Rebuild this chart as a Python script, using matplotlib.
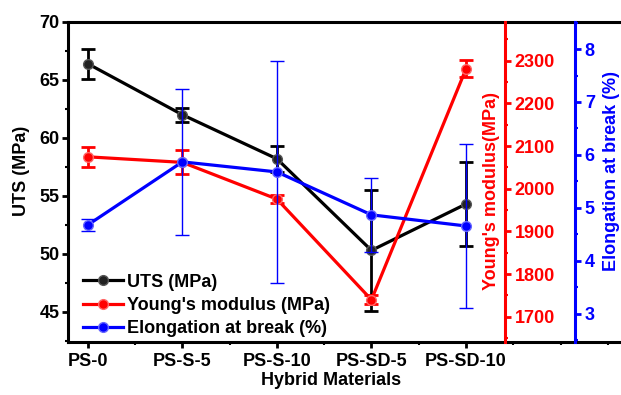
import matplotlib
matplotlib.use("Agg")
import matplotlib.pyplot as plt
from matplotlib.ticker import MultipleLocator
from matplotlib.lines import Line2D

plt.rcParams['font.family'] = ['Liberation Sans', 'DejaVu Sans']
plt.rcParams['font.weight'] = 'bold'

categories = ["PS-0", "PS-S-5", "PS-S-10", "PS-SD-5", "PS-SD-10"]
uts = [66.4, 62.0, 58.2, 50.3, 54.3]
uts_err = [1.3, 0.6, 1.1, 5.2, 3.6]
young = [2075, 2062, 1976, 1740, 2281]
young_err = [23, 28, 10, 10, 20]
elong = [4.68, 5.87, 5.68, 4.87, 4.66]
elong_err = [0.12, 1.38, 2.1, 0.7, 1.54]

W, H = 621, 395
fig = plt.figure(figsize=(W / 100, H / 100), dpi=100)
left, right, top, bottom = 68, 621, 22, 342
ax = fig.add_axes([left / W, 1 - bottom / H, (right - left) / W, (bottom - top) / H])
ax2 = ax.twinx()
ax3 = ax.twinx()

x = list(range(len(categories)))
lw = 2.3
ms = 7

# UTS
ax.errorbar(x, uts, yerr=uts_err, color='black', lw=lw, marker='o', ms=ms,
            mfc='#222222', mec='#555555', capsize=5, capthick=2, elinewidth=2, zorder=3)
# Young's
ax2.errorbar(x, young, yerr=young_err, color='red', lw=lw, marker='o', ms=ms,
             mfc='red', mec='#ff6666', capsize=5, capthick=2, elinewidth=2, zorder=3)
# Elongation
ax3.errorbar(x, elong, yerr=elong_err, color='blue', lw=lw, marker='o', ms=ms,
             mfc='blue', mec='#6666ff', capsize=5, capthick=1, elinewidth=1, zorder=3)

ax.set_xlim(-0.21, 5.64)
ax.set_ylim(42.4, 70)
ax2.set_ylim(1641, 2391)
ax3.set_ylim(2.47, 8.51)

ax.set_xticks(x)
ax.set_xticklabels(categories)
ax.xaxis.set_minor_locator(MultipleLocator(0.5))
ax.yaxis.set_major_locator(MultipleLocator(5))
ax.yaxis.set_minor_locator(MultipleLocator(2.5))
ax2.yaxis.set_major_locator(MultipleLocator(100))
ax2.yaxis.set_minor_locator(MultipleLocator(50))
ax3.yaxis.set_major_locator(MultipleLocator(1))
ax3.yaxis.set_minor_locator(MultipleLocator(0.5))

fs = 13
for a in (ax, ax2, ax3):
    for s in a.spines.values():
        s.set_linewidth(2.2)

ax.spines['right'].set_visible(False)
ax.tick_params(axis='both', which='major', direction='out', length=4, width=2,
               labelsize=fs, pad=2, right=False, top=False)
ax.tick_params(axis='both', which='minor', direction='out', length=2.5, width=1.5,
               right=False, top=False)
ax.tick_params(axis='x', which='major', pad=4)

for a, pos, col in ((ax2, 0.790, 'red'), (ax3, 0.917, 'blue')):
    for k in ('left', 'top', 'bottom'):
        a.spines[k].set_visible(False)
    a.spines['right'].set_position(('axes', pos))
    a.spines['right'].set_color(col)
    a.tick_params(axis='y', which='major', direction='out', length=4, width=2,
                  colors=col, labelsize=fs, pad=3)
    a.tick_params(axis='y', which='minor', direction='out', length=2.5, width=1.5,
                  colors=col)

for lab in ax.get_xticklabels() + ax.get_yticklabels() + ax2.get_yticklabels() + ax3.get_yticklabels():
    lab.set_fontweight('bold')

ax.set_xlabel("Hybrid Materials", fontsize=fs, fontweight='bold', va='baseline')
ax.xaxis.set_label_coords((331 - left) / (right - left), (bottom - 385) / (bottom - top))
ax.set_ylabel("UTS (MPa)", fontsize=fs, fontweight='bold', va='center')
ax.yaxis.set_label_coords((22 - left) / (right - left), (bottom - 171) / (bottom - top))
ax2.set_ylabel("Young's modulus(MPa)", fontsize=fs, fontweight='bold', color='red',
               va='center', rotation=90)
ax2.yaxis.set_label_coords((492 - left) / (right - left), (bottom - 191) / (bottom - top))
ax3.set_ylabel("Elongation at break (%)", fontsize=fs, fontweight='bold', color='blue',
               va='center', rotation=90)
ax3.yaxis.set_label_coords((611 - left) / (right - left), (bottom - 171) / (bottom - top))

handles = [
    Line2D([], [], color='black', lw=lw, marker='o', ms=ms, mfc='#222222', mec='#555555'),
    Line2D([], [], color='red', lw=lw, marker='o', ms=ms, mfc='red', mec='#ff6666'),
    Line2D([], [], color='blue', lw=lw, marker='o', ms=ms, mfc='blue', mec='#6666ff'),
]
labels = ["UTS (MPa)", "Young's modulus (MPa)", "Elongation at break (%)"]
ax3.legend(handles, labels, loc='lower left', bbox_to_anchor=(0.005, -0.025), frameon=False,
           prop={'size': fs, 'weight': 'bold'}, handlelength=2.2, handletextpad=0.2,
           labelspacing=0.35, borderaxespad=0.3)

fig.savefig("out.png", dpi=100)
